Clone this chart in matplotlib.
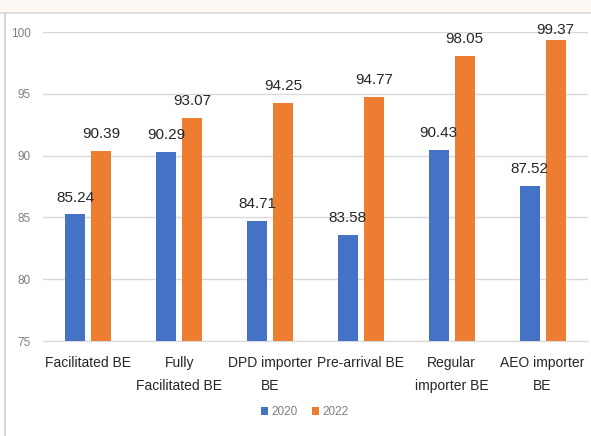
import matplotlib.pyplot as plt
import numpy as np
from matplotlib.lines import Line2D
from matplotlib.patches import Rectangle

categories = ["Facilitated BE", "Fully\nFacilitated BE", "DPD importer\nBE",
              "Pre-arrival BE", "Regular\nimporter BE", "AEO importer\nBE"]
values_2020 = [85.24, 90.29, 84.71, 83.58, 90.43, 87.52]
values_2022 = [90.39, 93.07, 94.25, 94.77, 98.05, 99.37]
yticks = [75, 80, 85, 90, 95, 100]

blue = "#4472C4"
orange = "#ED7D31"
plt.rcParams['font.family'] = ['Liberation Sans', 'DejaVu Sans']

fig = plt.figure(figsize=(5.91, 4.36), dpi=100)
fig.patch.set_facecolor("white")

# cream header band and frame lines
fig.patches.append(Rectangle((0, 1 - 12 / 436), 1, 12 / 436, transform=fig.transFigure,
                             facecolor="#FDF8F3", edgecolor="none", zorder=0))
fig.lines.append(Line2D([0, 1], [1 - 13 / 436] * 2, transform=fig.transFigure,
                        color="#D9D9D9", lw=1.2))
fig.lines.append(Line2D([4.5 / 591] * 2, [0, 1 - 13 / 436], transform=fig.transFigure,
                        color="#D0D0D0", lw=1.2))

ax = fig.add_axes([43 / 591, 1 - 341 / 436, (588 - 43) / 591, (341 - 32) / 436])
x = np.arange(len(categories))
w = 0.22
gap = 0.066
b1 = ax.bar(x - (w + gap) / 2, values_2020, w, color=blue, label="2020", zorder=3)
b2 = ax.bar(x + (w + gap) / 2, values_2022, w, color=orange, label="2022", zorder=3)

# value labels above bars, kept close to the top of the plot area
for bars, vals in ((b1, values_2020), (b2, values_2022)):
    for r, v in zip(bars, vals):
        ax.text(r.get_x() + r.get_width() / 2, min(v + 0.8, 99.6), f"{v:.2f}",
                ha="center", va="bottom", fontsize=11, color="#262626", clip_on=False)

ax.set_ylim(75, 100)
ax.set_xlim(-0.5, len(categories) - 0.5)
ax.set_yticks(yticks)
ax.set_yticklabels([str(t) for t in yticks], fontsize=8.5, color="#7F7F7F")
ax.set_xticks(x)
ax.set_xticklabels(categories, fontsize=10, color="#262626", linespacing=1.75)
ax.tick_params(axis="both", length=0)
ax.tick_params(axis="x", pad=11)
ax.tick_params(axis="y", pad=9)
ax.grid(axis="y", color="#D9D9D9", lw=1, zorder=0)
for s in ["top", "right", "left"]:
    ax.spines[s].set_visible(False)
ax.spines["bottom"].set_color("#D9D9D9")

fig.legend(handles=[b1, b2], labels=["2020", "2022"], loc="center",
           bbox_to_anchor=(305 / 591, 1 - 412 / 436), ncol=2, frameon=False,
           fontsize=8.5, labelcolor="#7F7F7F", handlelength=0.6, handleheight=0.6,
           handletextpad=0.3, columnspacing=1.2)

fig.savefig("out.png", dpi=100)
